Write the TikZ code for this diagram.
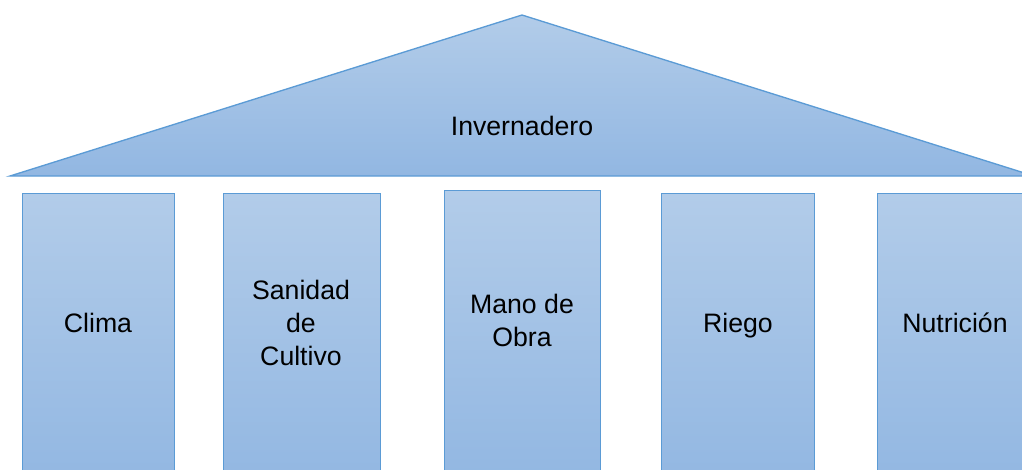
\documentclass[tikz,border=0pt]{standalone}
\usepackage{fontspec}
\setmainfont{Liberation Sans}
\definecolor{edge}{HTML}{5B9BD5}
\definecolor{topc}{HTML}{B2CCE9}
\definecolor{botc}{HTML}{92B7E2}
\begin{document}
\begin{tikzpicture}[x=0.75pt,y=-0.75pt,
  pillar/.style={draw=edge, line width=1pt, top color=topc, bottom color=botc, minimum width=#1*0.75pt, minimum height=290*0.75pt, anchor=north west, inner sep=0pt},
  lbl/.style={font=\fontsize{20}{24.75}\selectfont, align=center, text=black}]
\useasboundingbox (0,0) rectangle (1022,469);
\clip (0,0) rectangle (1022,469);
% roof
\path[draw=edge, line width=1pt, top color=topc, bottom color=botc] (522,15) -- (1034,176) -- (10,176) -- cycle;
\node[lbl] (inv) at (522,126) {Invernadero};
% pillars
\node[pillar=152] (p1) at (22,193) {};
\node[pillar=157] (p2) at (223,193) {};
\node[pillar=156] (p3) at (444,190) {};
\node[pillar=153] (p4) at (661,193) {};
\node[pillar=155] (p5) at (877,193) {};
% labels
\node[lbl] (t1) at (98,323) {Clima};
\node[lbl] (t2) at (301,323) {Sanidad\\de\\Cultivo};
\node[lbl] (t3) at (522,320) {Mano de\\Obra};
\node[lbl] (t4) at (738,326) {Riego};
\node[lbl] (t5) at (955,323) {Nutrición};
\end{tikzpicture}
\end{document}
